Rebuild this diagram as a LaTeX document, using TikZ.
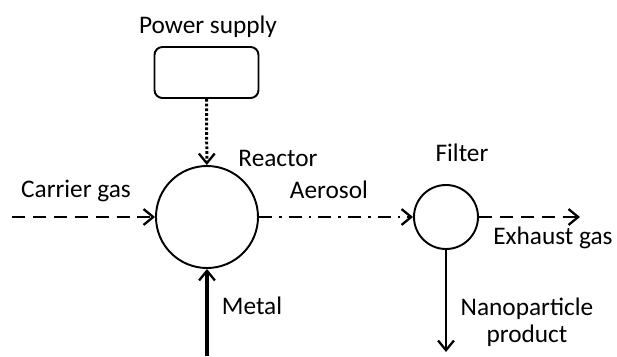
\documentclass[tikz,border=0pt]{standalone}
\usepackage{fontspec}
\setmainfont{Carlito}
\usetikzlibrary{arrows.meta}
\begin{document}
\begin{tikzpicture}[x=1cm,y=1cm,font=\fontsize{14.4}{17.3}\selectfont,
  unit/.style={draw,line width=1.1pt,circle,inner sep=0pt},
  flow/.style={line width=1.7pt,-{Straight Barb[length=5.5pt,width=9pt,line width=1.3pt]}}]
\useasboundingbox (0,0) rectangle (12.34,7.12);

\node[draw,line width=1.1pt,rounded corners=0.16cm,minimum width=2.08cm,minimum height=1.02cm] (power) at (4.13,5.67) {};
\node[unit,minimum size=2.04cm] (reactor) at (4.14,2.78) {};
\node[unit,minimum size=1.28cm] (filter) at (8.92,2.78) {};

\coordinate (carrierin) at (0.24,2.78);
\coordinate (metalin) at (4.14,0);
\coordinate (exhaustout) at (11.6,2.78);
\coordinate (productout) at (8.92,0.08);

\node (powerlabel) at (4.16,6.58) {Power supply};
\node (reactorlabel) at (5.56,3.96) {Reactor};
\node (filterlabel) at (9.24,4.06) {Filter};
\node (carrierlabel) at (1.52,3.30) {Carrier gas};
\node (aerosollabel) at (6.58,3.32) {Aerosol};
\node (metallabel) at (5.04,1.0) {Metal};
\node (exhaustlabel) at (11.06,2.36) {Exhaust gas};
\node (productlabel) at (10.54,0.68) {\shortstack{Nanoparticle\\product}};

\draw[flow,dash pattern=on 1.5pt off 1.2pt] (power) -- (reactor);
\draw[flow,dash pattern=on 7.4pt off 4.5pt] (carrierin) -- (reactor);
\draw[flow,line width=2pt] (metalin) -- (reactor);
\draw[flow,dash pattern=on 7.4pt off 4pt on 1.5pt off 4pt] (reactor) -- (filter);
\draw[flow,dash pattern=on 7.4pt off 4.5pt] (filter) -- (exhaustout);
\draw[flow] (filter) -- (productout);
\end{tikzpicture}
\end{document}
